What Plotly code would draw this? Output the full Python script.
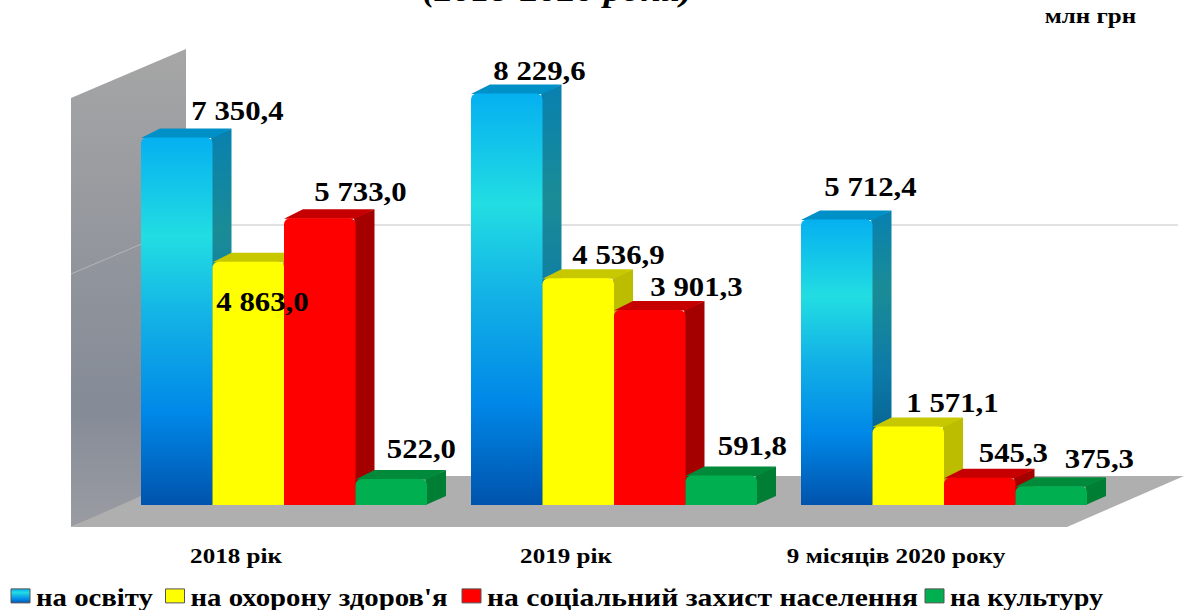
import plotly.graph_objects as go

categories = ["2018 рік", "2019 рік", "9 місяців 2020 року"]
series_names = ["на освіту", "на охорону здоров'я", "на соціальний захист населення", "на культуру"]
osvita = [7350.4, 8229.6, 5712.4]
zdorovya = [4863.0, 4536.9, 1571.1]
zakhyst = [5733.0, 3901.3, 545.3]
kultura = [522.0, 591.8, 375.3]
all_series = [osvita, zdorovya, zakhyst, kultura]

# style
FONT = "Liberation Serif"
front = ["#0a86e6", "#ffff00", "#ff0000", "#00b050"]
side = ["#0880b0", "#bdbd00", "#a50000", "#007e33"]
top = ["#0090c8", "#c8c800", "#c60000", "#008a3a"]
W, H = 1184, 610
PX_PER_X, PX_PER_Y = 330, 0.05
X0_PX, Y0_PX = 284, 505
PLOT_BOTTOM = 530
BARGAP = 44 / 330
DX, DY = 19 / PX_PER_X, 9 / PX_PER_Y
label_shift = [[(61, 26), (33, 23), (34, 32)],
               [(14, -40), (40, 23), (44, 23)],
               [(41, 26), (47, 23), (34, 25)],
               [(30, 30), (31, 29), (48, 27)]]

xs = list(range(len(categories)))
xd = lambda p: (p - X0_PX) / PX_PER_X
yd = lambda p: (Y0_PX - p) / PX_PER_Y
bw = (1 - BARGAP) / 4


def poly(pts, fill, width=0, color=None):
    path = "M" + " L".join(f"{a:.5f},{b:.3f}" for a, b in pts) + " Z"
    return dict(type="path", path=path, xref="x", yref="y", fillcolor=fill,
                line=dict(width=width, color=color or fill), layer="below")


shapes = [
    poly([(xd(71), yd(98)), (xd(186), yd(49)), (xd(186), yd(480)), (xd(71), yd(527))], "#a1a1a1"),
    poly([(xd(71), yd(527)), (xd(186), yd(476)), (xd(1184), yd(476)), (xd(1067), yd(527))], "#afafaf"),
    dict(type="line", xref="x", yref="y", x0=xd(186), x1=xd(1178), y0=yd(225), y1=yd(225),
         line=dict(color="#c4c4c4", width=1), layer="below"),
    dict(type="line", xref="x", yref="y", x0=xd(71), x1=xd(186), y0=yd(274), y1=yd(225),
         line=dict(color="#b5b5b5", width=1), layer="below"),
]
for g in xs:
    for k, vals in enumerate(all_series):
        v = vals[g]
        l = g + (k - 2) * bw
        r = l + bw
        shapes.append(poly([(r - 0.004, 0), (r + DX, DY), (r + DX, v + DY), (r - 0.004, v)], side[k]))
        shapes.append(poly([(l, v - 10), (l + DX, v + DY), (r + DX, v + DY), (r, v - 10)], top[k]))

fig = go.Figure()
for k, name in enumerate(series_names):
    fig.add_trace(go.Bar(name=name, x=xs, y=all_series[k], marker=dict(color=front[k], line=dict(width=0))))

annotations = []
for k, vals in enumerate(all_series):
    for g, v in enumerate(vals):
        txt = f"{v:,.1f}".replace(",", " ").replace(".", ",")
        sx, sy = label_shift[k][g]
        annotations.append(dict(x=g + (k - 1.5) * bw, y=v, text=txt, showarrow=False, xshift=sx, yshift=sy,
                                xanchor="center", yanchor="middle",
                                font=dict(family=FONT, size=27, color="#000", weight="bold")))
annotations.append(dict(xref="paper", yref="paper", x=557 / W, y=1, yanchor="bottom", xanchor="center", yshift=-10,
                        showarrow=False, text="(2018-2020 роки)",
                        font=dict(family=FONT, size=31, color="#000", weight="bold", style="italic")))
annotations.append(dict(xref="paper", yref="paper", x=1090 / W, y=1, yanchor="middle", xanchor="center", yshift=-16,
                        showarrow=False, text="млн грн",
                        font=dict(family=FONT, size=21, color="#000", weight="bold")))
fig.update_layout(
    width=W, height=H, margin=dict(l=0, r=0, t=0, b=H - PLOT_BOTTOM, autoexpand=False),
    paper_bgcolor="white", plot_bgcolor="rgba(0,0,0,0)",
    barmode="group", bargap=BARGAP, bargroupgap=0, barcornerradius=6,
    shapes=shapes, annotations=annotations,
    xaxis=dict(range=[xd(0), xd(W)], tickmode="array", tickvals=[g - 48 / PX_PER_X for g in xs], ticktext=categories,
               showgrid=False, zeroline=False, showline=False, ticks="", ticklabelstandoff=10,
               tickfont=dict(family=FONT, size=22, color="#000", weight="bold")),
    yaxis=dict(range=[yd(PLOT_BOTTOM), yd(0)], visible=False, showgrid=False, zeroline=False),
    legend=dict(orientation="h", x=0, xanchor="left", y=14 / H, yref="container", yanchor="middle",
                font=dict(family=FONT, size=26, color="#000", weight="bold"), itemwidth=30,
                bgcolor="rgba(0,0,0,0)", traceorder="normal"),
)

post = """
document.body.style.margin = '0';
document.body.style.overflow = 'hidden';
var gd = document.getElementById('{plot_id}');
var svg = gd.querySelector('svg.main-svg');
var NS = 'http://www.w3.org/2000/svg';
var defs = svg.querySelector('defs');
function grad(id, stops) {
  var g = document.createElementNS(NS, 'linearGradient');
  g.setAttribute('id', id); g.setAttribute('x1', 0); g.setAttribute('y1', 0);
  g.setAttribute('x2', 0); g.setAttribute('y2', 1);
  stops.forEach(function (s) {
    var t = document.createElementNS(NS, 'stop');
    t.setAttribute('offset', s[0]); t.setAttribute('stop-color', s[1]); g.appendChild(t);
  });
  defs.appendChild(g);
}
grad('gFront', [[0, '#05b0f0'], [0.27, '#22dde2'], [0.5, '#12b0e6'], [0.75, '#0088e8'], [1, '#0053ac']]);
grad('gSide', [[0, '#0880b0'], [0.27, '#1a8c96'], [0.55, '#0c7aa8'], [0.8, '#05608f'], [1, '#00467a']]);
grad('gWall', [[0, '#a6a6a6'], [0.5, '#8f939b'], [0.75, '#858b97'], [1, '#9a9ca2']]);
var map = {'rgb(10, 134, 230)': 'gFront', 'rgb(8, 128, 176)': 'gSide', 'rgb(161, 161, 161)': 'gWall'};
gd.querySelectorAll('.legendpoints path').forEach(function (p) {
  p.setAttribute('d', 'M14,7H-5V-7H14Z');
  p.style.stroke = '#555';
  p.style.strokeWidth = '1px';
});
gd.querySelectorAll('svg path').forEach(function (p) {
  var f = p.style.fill;
  if (map[f]) { p.style.fill = 'url(#' + map[f] + ')'; }
});
function widen(el, len) {
  el.setAttribute('textLength', len);
  el.setAttribute('lengthAdjust', 'spacingAndGlyphs');
}
gd.querySelectorAll('.annotation-text').forEach(function (t) {
  var k = parseFloat(t.style.fontSize) === 27 ? 1.14 : 1.19;
  widen(t, t.getComputedTextLength() * k);
});
gd.querySelectorAll('.xtick text').forEach(function (t) { widen(t, t.getComputedTextLength() * 1.14); });
var textX = [36, 190.5, 487, 950], textW = [117, 257, 431, 153];
gd.querySelectorAll('.legend .traces').forEach(function (tr, i) {
  var m = /translate\\(([^,]+),\\s*([^)]+)\\)/.exec(tr.getAttribute('transform'));
  tr.setAttribute('transform', 'translate(' + (textX[i] - 40) + ',' + m[2] + ')');
  widen(tr.querySelector('.legendtext'), textW[i]);
});
gd.querySelectorAll('.legend .scrollbox, .legend').forEach(function (g) {
  g.removeAttribute('clip-path'); g.style.clipPath = 'none';
});
"""
fig.write_html("out.html", post_script=post, config={"displayModeBar": False})
